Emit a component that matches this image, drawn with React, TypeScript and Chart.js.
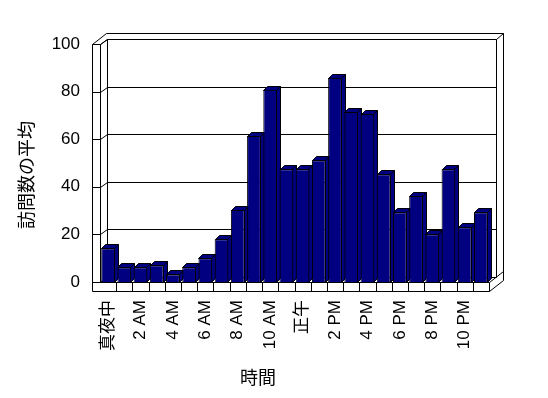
import { useEffect, useRef } from 'react';
import { Chart, registerables } from 'chart.js';

Chart.register(...registerables);

const categories = [
  '真夜中', '1 AM', '2 AM', '3 AM', '4 AM', '5 AM', '6 AM', '7 AM', '8 AM', '9 AM', '10 AM', '11 AM',
  '正午', '1 PM', '2 PM', '3 PM', '4 PM', '5 PM', '6 PM', '7 PM', '8 PM', '9 PM', '10 PM', '11 PM',
];
const visits = [
  14.2, 6.2, 6.2, 7.0, 3.2, 6.2, 10.0, 18.0, 30.2, 61.3, 80.8, 47.4,
  47.4, 51.2, 85.8, 71.4, 70.6, 45.3, 29.3, 36.1, 20.1, 47.4, 23.0, 29.3,
];
const yTicks = [0, 20, 40, 60, 80, 100];
const labelEvery = 2;
const yTitle = '訪問数の平均';
const xTitle = '時間';

const NAVY = '#000080';
const DEPTH = { x: 7, y: -5 };
const WALL = { x: 7, y: -6 };
const BAR_DEPTH = { x: 4, y: -4 };
const WALL_FRONT = 8;
const FLOOR_THICK = 9;
const FONT_FAMILY = "'Liberation Sans', 'Noto Sans CJK JP', sans-serif";
const CJK_FAMILY = "'Noto Sans CJK JP', sans-serif";

const box3d = {
  id: 'box3d',
  beforeDatasetsDraw(chart: any) {
    const { ctx, chartArea: a, scales } = chart;
    const xs = scales.x;
    const ys = scales.y;
    const L = a.left, R = a.right, T = a.top, B = a.bottom;
    const dx = DEPTH.x, dy = DEPTH.y, tx = WALL.x, ty = WALL.y;
    const q = (v: number) => Math.round(v) + 0.5;
    ctx.save();
    ctx.strokeStyle = '#000';
    ctx.lineWidth = 1;
    const line = (x1: number, y1: number, x2: number, y2: number) => {
      ctx.beginPath();
      ctx.moveTo(q(x1), q(y1));
      ctx.lineTo(q(x2), q(y2));
      ctx.stroke();
    };
    const poly = (pts: number[][]) => {
      ctx.beginPath();
      pts.forEach(([px, py], i) => (i === 0 ? ctx.moveTo(q(px), q(py)) : ctx.lineTo(q(px), q(py))));
      ctx.closePath();
      ctx.fill();
      ctx.stroke();
    };
    // outer silhouette
    ctx.fillStyle = '#fff';
    poly([
      [L - WALL_FRONT, T],
      [L - WALL_FRONT + dx + tx, T + dy + ty],
      [R + dx + tx, T + dy + ty],
      [R + dx + tx, B + FLOOR_THICK + dy + ty],
      [R, B + FLOOR_THICK],
      [L - WALL_FRONT, B + FLOOR_THICK],
    ]);
    // inner edges
    line(L - WALL_FRONT, T, L, T);
    line(L, T, L, B);
    line(L, T, L + dx, T + dy);
    line(L + dx, T + dy, R + dx, T + dy);
    line(R + dx, T + dy, R + dx + tx, T + dy + ty);
    line(R + dx, T + dy, R + dx, B + dy);
    line(L + dx, T + dy, L + dx, B + dy);
    line(L, B, R, B);
    line(R, B, R, B + FLOOR_THICK);
    line(R, B, R + dx + tx, B + dy + ty);
    line(L, B, L + dx, B + dy);
    line(L + dx, B + dy, R + dx, B + dy);
    // gridlines on walls
    yTicks.forEach((v) => {
      const yy = ys.getPixelForValue(v);
      line(L - WALL_FRONT, yy, L, yy);
      line(L, yy, L + dx, yy + dy);
      line(L + dx, yy + dy, R + dx, yy + dy);
    });
    // category dividers on floor front face
    for (let i = 1; i < categories.length; i++) {
      const xx = (xs.getPixelForValue(i - 1) + xs.getPixelForValue(i)) / 2;
      line(xx, B, xx, B + FLOOR_THICK);
    }
    // bar top and side faces
    const meta = chart.getDatasetMeta(0);
    ctx.fillStyle = NAVY;
    meta.data.forEach((el: any) => {
      const { x, y, base, width } = el.getProps(['x', 'y', 'base', 'width'], true);
      const l = x - width / 2;
      const r = x + width / 2 - 1;
      const bx = BAR_DEPTH.x, by = BAR_DEPTH.y;
      poly([
        [r, y],
        [r + bx, y + by],
        [r + bx, base + by],
        [r, base],
      ]);
      poly([
        [l, y],
        [l + bx, y + by],
        [r + bx, y + by],
        [r, y],
      ]);
    });
    ctx.restore();
  },
  afterDraw(chart: any) {
    const { ctx } = chart;
    ctx.save();
    ctx.fillStyle = '#000';
    ctx.font = `18px ${CJK_FAMILY}`;
    ctx.textAlign = 'center';
    ctx.textBaseline = 'middle';
    ctx.fillText(xTitle, 258, 377);
    ctx.translate(26, 175);
    ctx.rotate(-Math.PI / 2);
    ctx.fillText(yTitle, 0, 0);
    ctx.restore();
  },
};

export default function App() {
  const ref = useRef<HTMLCanvasElement | null>(null);
  useEffect(() => {
    if (!ref.current) return;
    const chart = new Chart(ref.current, {
      type: 'bar',
      data: {
        labels: categories,
        datasets: [
          {
            data: visits,
            backgroundColor: NAVY,
            borderColor: '#000',
            borderWidth: 1,
            barPercentage: 0.85,
            categoryPercentage: 1,
          },
        ],
      },
      options: {
        responsive: false,
        animation: false,
        events: [],
        layout: { padding: { top: 44, right: 59, left: 0, bottom: 0 } },
        plugins: { legend: { display: false }, tooltip: { enabled: false } },
        scales: {
          x: {
            grid: { display: false, drawTicks: false },
            border: { display: false },
            ticks: {
              autoSkip: false,
              minRotation: 90,
              maxRotation: 90,
              padding: 18,
              color: '#000',
              font: { family: FONT_FAMILY, size: 17 },
              callback: (_v: any, i: number) => (i % labelEvery === 0 ? categories[i] : ''),
            },
            afterFit: (s: any) => {
              s.height = 116;
            },
          },
          y: {
            min: 0,
            max: 100,
            grid: { display: false, drawTicks: false },
            border: { display: false },
            ticks: {
              stepSize: 20,
              padding: 20,
              color: '#000',
              font: { family: FONT_FAMILY, size: 17 },
            },
            afterFit: (s: any) => {
              s.width = 100;
            },
          },
        },
      },
      plugins: [box3d],
    });
    return () => chart.destroy();
  }, []);
  return (
    <div style={{ position: 'fixed', left: 0, top: 0, width: 548, height: 398, background: '#fff' }}>
      <canvas ref={ref} width={548} height={398} style={{ display: 'block' }} />
    </div>
  );
}
